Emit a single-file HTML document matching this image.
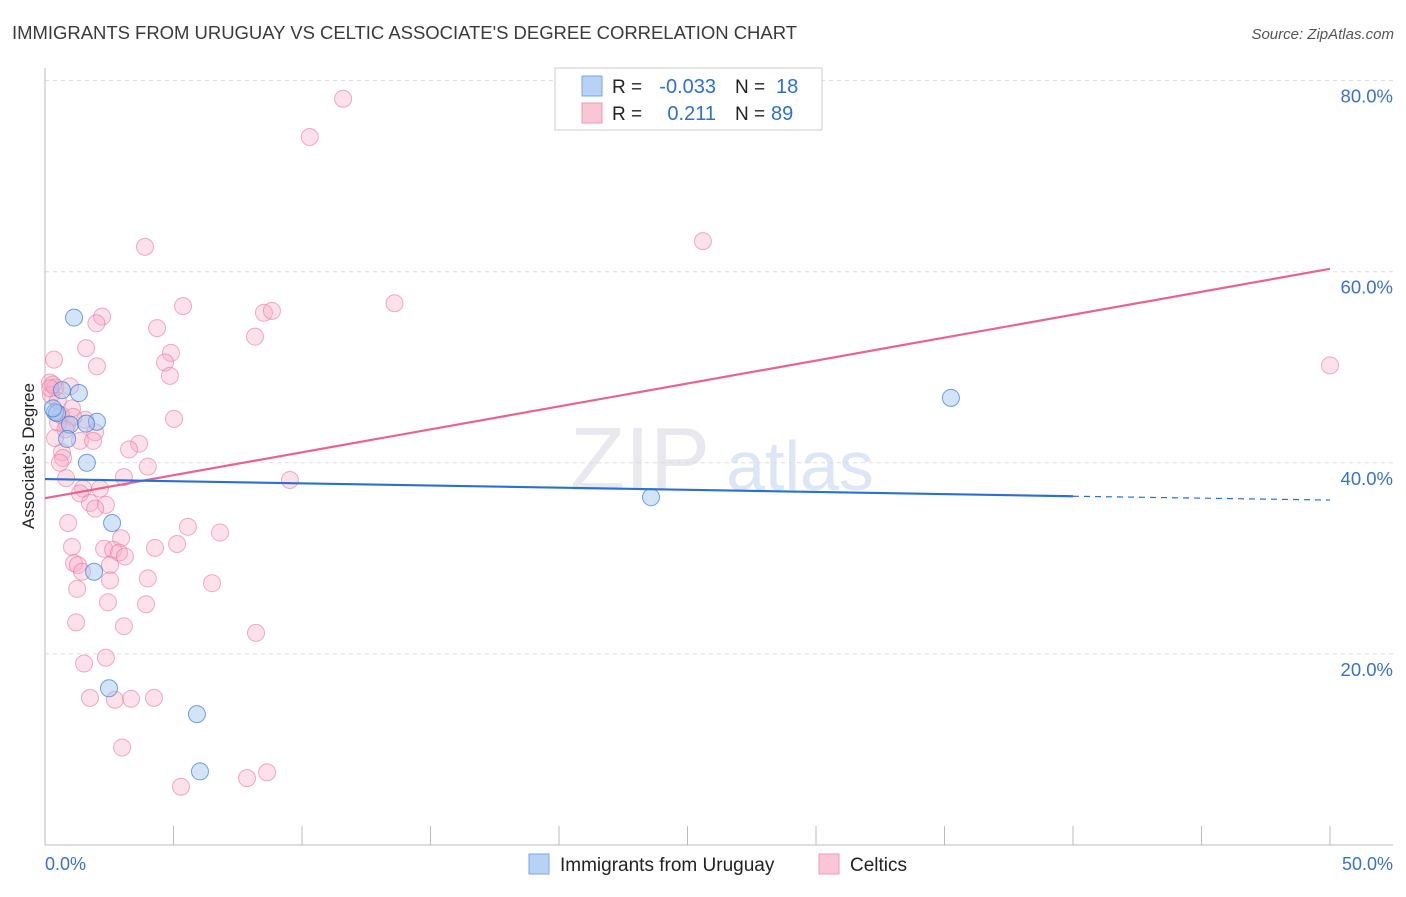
<!DOCTYPE html>
<html><head><meta charset="utf-8"><style>
body{margin:0;background:#fff;font-family:"Liberation Sans",sans-serif}
svg text{font-family:"Liberation Sans",sans-serif}
</style></head><body>
<svg width="1406" height="892" xmlns="http://www.w3.org/2000/svg">
<text x="12" y="39" font-size="18.5" fill="#3a3a3a" textLength="785">IMMIGRANTS FROM URUGUAY VS CELTIC ASSOCIATE'S DEGREE CORRELATION CHART</text>
<text x="1394" y="39" font-size="15" fill="#555" font-style="italic" text-anchor="end">Source: ZipAtlas.com</text>
<text x="640" y="490" font-size="90" fill="#e8e8ee" font-family="Liberation Serif" text-anchor="middle">ZIP</text>
<text x="800" y="490" font-size="70" fill="#dce6f4" text-anchor="middle">atlas</text>
<g id="grid"></g>
<g id="axes"></g>
<text transform="translate(34,456) rotate(-90)" font-size="17" fill="#222" text-anchor="middle">Associate's Degree</text>
<text x="45" y="870" font-size="18" fill="#3a72c8">0.0%</text>
<text x="1393" y="870" font-size="18" fill="#3a72c8" text-anchor="end">50.0%</text>
<g id="marks"></g>
<g>
<rect x="555" y="68" width="267" height="62" fill="#fff" stroke="#ccc"/>
<rect x="582" y="76" width="20" height="20" fill="#b8d2f5" stroke="#7aa6e6"/>
<rect x="582" y="103" width="20" height="20" fill="#f9c6d6" stroke="#ee9ab5"/>
<text x="612" y="93" font-size="19" fill="#222">R =</text>
<text x="716" y="93" font-size="20" fill="#2e6fd0" text-anchor="end">-0.033</text>
<text x="735" y="93" font-size="19" fill="#222">N =</text>
<text x="776" y="93" font-size="20" fill="#2e6fd0">18</text>
<text x="612" y="120" font-size="19" fill="#222">R =</text>
<text x="716" y="120" font-size="20" fill="#2e6fd0" text-anchor="end">0.211</text>
<text x="735" y="120" font-size="19" fill="#222">N =</text>
<text x="771" y="120" font-size="20" fill="#2e6fd0">89</text>
</g>
<g>
<rect x="529" y="854" width="20" height="20" fill="#b8d2f5" stroke="#7aa6e6"/>
<text x="560" y="871" font-size="19" fill="#222">Immigrants from Uruguay</text>
<rect x="819" y="854" width="20" height="20" fill="#f9c6d6" stroke="#ee9ab5"/>
<text x="850" y="871" font-size="19" fill="#222">Celtics</text>
</g>
</svg>
<script>
const yTicks=[20,40,60,80];
const yTickLabels=["20.0%","40.0%","60.0%","80.0%"];
const xTicks=[0,5,10,15,20,25,30,35,40,45,50];
const blueX=[1.13,0.66,1.32,0.39,0.47,0.97,2.02,1.6,0.86,1.63,2.61,1.91,2.49,5.91,6.03,23.58,35.25,0.31];
const blueY=[55.2,47.6,47.3,45.3,45.2,44.0,44.3,44.1,42.5,40.0,33.7,28.6,16.4,13.7,7.7,36.4,46.8,45.7];
const pinkX=[11.6,10.3,3.89,25.6,5.37,13.6,2.22,2.0,8.52,8.83,4.36,8.17,1.6,0.35,4.9,4.67,4.86,2.02,50,0.19,0.4,0.97,0.23,1.05,0.62,5.02,1.56,0.86,0.51,1.95,0.39,1.36,1.87,3.66,3.27,0.66,0.7,0.58,4.0,9.53,3.07,0.82,1.48,2.14,1.36,1.75,2.37,1.95,0.9,5.56,6.81,2.96,5.14,4.28,1.05,2.3,2.65,2.88,3.11,1.13,1.28,2.53,1.44,2.53,4.0,6.5,1.25,2.45,3.93,3.07,1.21,8.21,1.52,2.37,1.75,2.72,3.35,4.24,3.0,8.64,7.86,5.29,0.3,0.5,0.2,1.1,0.8];
const pinkY=[78.1,74.1,62.6,63.2,56.4,56.7,55.3,54.6,55.7,55.9,54.1,53.2,52.0,50.8,51.5,50.5,49.1,50.1,50.2,48.4,47.9,48.0,47.1,45.7,45.0,44.6,44.5,44.0,44.2,43.2,42.6,42.3,42.3,42.0,41.4,41.1,40.5,40.0,39.6,38.2,38.5,38.4,37.3,37.3,36.8,35.8,35.6,35.2,33.7,33.3,32.7,32.1,31.5,31.1,31.2,31.0,30.9,30.6,30.2,29.5,29.3,29.3,28.6,27.7,27.9,27.4,26.8,25.4,25.2,22.9,23.3,22.2,19.0,19.6,15.4,15.2,15.3,15.4,10.2,7.6,7.0,6.1,48.2,46.5,47.8,44.8,43.5];
const blueLine=[[0,38.3],[40,36.5],[50,36.1]];
const pinkLine=[[0,36.3],[50,60.3]];
const X=v=>45+v*25.7, Y=v=>845-v*9.555;
const NS="http://www.w3.org/2000/svg";
function mk(t,a,p){const e=document.createElementNS(NS,t);for(const k in a)e.setAttribute(k,a[k]);p.appendChild(e);return e;}
const grid=document.getElementById('grid'),axes=document.getElementById('axes'),marks=document.getElementById('marks');
yTicks.forEach((v,i)=>{
 const l=mk('line',{x1:45,x2:1393,y1:Y(v),y2:Y(v),stroke:'#ddd','stroke-dasharray':'4,4'},grid);
 
 
 const t=mk('text',{x:1393,y:Y(v)+22,'font-size':18.5,fill:'#3a72c8','text-anchor':'end'},grid);
 t.textContent=yTickLabels[i];
 
 
});
const ya=mk('line',{x1:45,x2:45,y1:68,y2:845,stroke:'#bbb'},axes);


const xa=mk('line',{x1:45,x2:1393,y1:845,y2:845,stroke:'#bbb'},axes);


xTicks.forEach(v=>{
 const t=mk('line',{x1:X(v),x2:X(v),y1:826,y2:845,stroke:'#bbb'},axes);
 
 
});
pinkX.forEach((x,i)=>{
 const c=mk('circle',{cx:X(x),cy:Y(pinkY[i]),r:8.5,fill:'rgba(246,168,194,0.35)',stroke:'rgba(230,120,160,0.6)','stroke-width':1},marks);
 
 
});
blueX.forEach((x,i)=>{
 const c=mk('circle',{cx:X(x),cy:Y(blueY[i]),r:8.5,fill:'rgba(160,195,240,0.45)',stroke:'rgba(70,130,210,0.75)','stroke-width':1},marks);
 
 
});
const pl=mk('line',{x1:X(pinkLine[0][0]),y1:Y(pinkLine[0][1]),x2:X(pinkLine[1][0]),y2:Y(pinkLine[1][1]),stroke:'#e8648f','stroke-width':2.2},marks);


const bl=mk('line',{x1:X(blueLine[0][0]),y1:Y(blueLine[0][1]),x2:X(blueLine[1][0]),y2:Y(blueLine[1][1]),stroke:'#2b6fd6','stroke-width':2.2},marks);


const bd=mk('line',{x1:X(blueLine[1][0]),y1:Y(blueLine[1][1]),x2:X(blueLine[2][0]),y2:Y(blueLine[2][1]),stroke:'#2b6fd6','stroke-width':1.2,'stroke-dasharray':'6,5'},marks);


</script>
</body></html>
